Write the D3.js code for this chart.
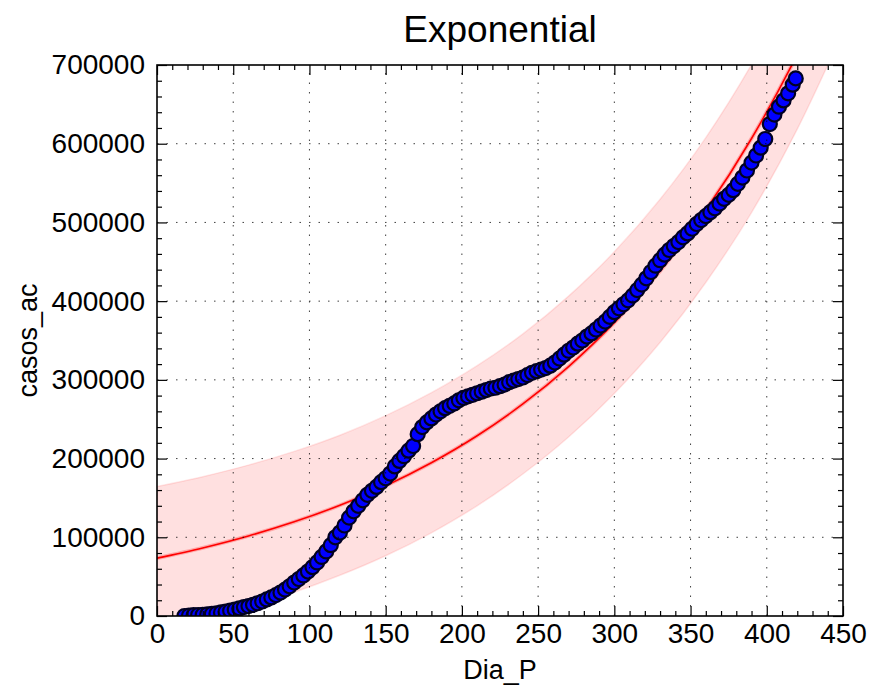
<!DOCTYPE html>
<html>
<head>
<meta charset="utf-8">
<script src="https://cdnjs.cloudflare.com/ajax/libs/d3/7.8.5/d3.min.js"></script>
<style>
	body { margin: 0; background: #fff; }
	svg { display: block; font-family: "Liberation Sans", Arial, sans-serif; }
</style>
</head>
<body>
<div id="chart"></div>
<script>
	'use strict';

	// accumulated cases (casos_ac) per day (Dia_P)
	var dias = [18, 21, 24, 27, 30, 33, 36, 39, 42, 45, 48, 51, 54, 57, 60, 63, 66, 69, 72, 75,
		78, 81, 84, 87, 90, 93, 96, 99, 102, 105, 108, 111, 114, 117, 120, 123, 126, 129, 132, 135,
		138, 141, 144, 147, 150, 153, 156, 159, 162, 165, 168, 171, 174, 177, 180, 183, 186, 189, 192, 195,
		198, 201, 204, 207, 210, 213, 216, 219, 222, 225, 228, 231, 234, 237, 240, 243, 246, 249, 252, 255,
		258, 261, 264, 267, 270, 273, 276, 279, 282, 285, 288, 291, 294, 297, 300, 303, 306, 309, 312, 315,
		318, 321, 324, 327, 330, 333, 336, 339, 342, 345, 348, 351, 354, 357, 360, 363, 366, 369, 372, 375,
		378, 381, 384, 387, 390, 393, 396, 399, 402, 405, 408, 411, 414, 417, 419];
	var casos = [0, 600, 1000, 1300, 1600, 2100, 2700, 3300, 4500, 5600, 6800, 8000, 9600, 11300, 12600, 14200, 16200, 18400, 21000, 23600,
		26500, 29800, 33500, 37800, 42500, 47000, 51500, 56500, 62000, 68000, 75000, 82000, 90000, 100000, 106000, 115000, 125000, 133000, 140000, 147000,
		154000, 159000, 164000, 170000, 175000, 181000, 190000, 197000, 203000, 210000, 216000, 231000, 240000, 246000, 251000, 256000, 260000, 264000, 267000, 270000,
		274000, 277000, 279000, 281000, 283000, 285000, 287000, 289000, 290000, 292000, 294000, 297000, 299000, 301000, 303000, 306000, 309000, 311000, 313000, 315000,
		318000, 322000, 327000, 332000, 337000, 341000, 346000, 350000, 355000, 359000, 364000, 369000, 374000, 380000, 386000, 391000, 396000, 401000, 407000, 414000,
		421000, 429000, 437000, 445000, 452000, 459000, 465000, 470000, 475000, 481000, 486000, 492000, 498000, 503000, 508000, 513000, 518000, 524000, 530000, 535000,
		541000, 549000, 557000, 566000, 576000, 585000, 595000, 606000, 625000, 637000, 647000, 655000, 664000, 675000, 683000];

	// exponential fit and its band, read at every 30 days
	var fitDias = [0, 30, 60, 90, 120, 150, 180, 210, 240, 270, 300, 330, 360, 390, 420, 450];
	var fitCasos = [73500, 86500, 101700, 119600, 140700, 165500, 194700, 229000, 269400, 316900, 372700, 438400, 515700, 606600, 713500, 839200];
	var bandUpper = [164500, 177000, 191700, 209100, 229700, 254500, 283700, 318000, 358400, 406400, 462700, 529400, 607700, 700600, 808500, 936200];
	var bandLower = [-17500, -4000, 11700, 30100, 51700, 76500, 105700, 140000, 180400, 227400, 282700, 347400, 423700, 512600, 618500, 742200];

	var xTicks = [0, 50, 100, 150, 200, 250, 300, 350, 400, 450];
	var yTicks = [0, 100000, 200000, 300000, 400000, 500000, 600000, 700000];

	var width = 873;
	var height = 693;
	var margin = { top: 65, right: 30, bottom: 77, left: 157 };

	var x = d3.scaleLinear()
		.domain([0, 450])
		.range([margin.left, width - margin.right]);
	var y = d3.scaleLinear()
		.domain([0, 700000])
		.range([height - margin.bottom, margin.top]);

	var xMinor = d3.range(0, 451, 10).filter(function (d) { return d % 50 !== 0; });
	var yMinor = d3.range(0, 700001, 20000).filter(function (d) { return d % 100000 !== 0; });

	var svg = d3.select('#chart').append('svg')
		.attr('width', width)
		.attr('height', height);

	svg.append('clipPath')
		.attr('id', 'plot-clip')
		.append('rect')
		.attr('x', margin.left)
		.attr('y', margin.top)
		.attr('width', width - margin.left - margin.right)
		.attr('height', height - margin.top - margin.bottom);

	var plot = svg.append('g').attr('clip-path', 'url(#plot-clip)');

	var fitData = fitDias.map(function (d, i) {
		return { dia: d, fit: fitCasos[i], hi: bandUpper[i], lo: bandLower[i] };
	});

	// pink band
	var area = d3.area()
		.curve(d3.curveMonotoneX)
		.x(function (d) { return x(d.dia); })
		.y0(function (d) { return y(d.lo); })
		.y1(function (d) { return y(d.hi); });
	plot.append('path')
		.datum(fitData)
		.attr('d', area)
		.attr('fill', 'rgba(255,0,0,0.12)')
		.attr('stroke', 'rgba(255,0,0,0.1)')
		.attr('stroke-width', 1.5);

	// red fitted curve
	var line = d3.line()
		.curve(d3.curveMonotoneX)
		.x(function (d) { return x(d.dia); })
		.y(function (d) { return y(d.fit); });
	plot.append('path')
		.datum(fitData)
		.attr('d', line)
		.attr('fill', 'none')
		.attr('stroke', 'rgba(255,0,0,0.25)')
		.attr('stroke-width', 4);
	plot.append('path')
		.datum(fitData)
		.attr('d', line)
		.attr('fill', 'none')
		.attr('stroke', '#ff0000')
		.attr('stroke-width', 1.6);

	// scatter of the observations
	plot.selectAll('circle')
		.data(dias.map(function (d, i) { return [d, casos[i]]; }))
		.enter().append('circle')
		.attr('cx', function (d) { return x(d[0]); })
		.attr('cy', function (d) { return y(d[1]); })
		.attr('r', 7)
		.attr('fill', '#0000ff')
		.attr('stroke', '#000022')
		.attr('stroke-width', 2.2);

	// dotted grid on top, like the classic style
	var grid = svg.append('g')
		.attr('stroke', '#000')
		.attr('stroke-width', 1)
		.attr('stroke-dasharray', '1.5,8')
		.attr('opacity', 0.75);
	grid.selectAll('.gx').data(xTicks.slice(1, -1))
		.enter().append('line')
		.attr('x1', x).attr('x2', x)
		.attr('y1', y(0)).attr('y2', y(700000));
	grid.selectAll('.gy').data(yTicks.slice(1, -1))
		.enter().append('line')
		.attr('y1', y).attr('y2', y)
		.attr('x1', x(0)).attr('x2', x(450));

	// axes, ticks pointing inward on all four sides
	function styleAxis(g) {
		g.select('.domain').remove();
		g.selectAll('.tick line').attr('stroke', '#000').attr('stroke-width', 1.2);
		g.selectAll('text')
			.attr('fill', '#000')
			.style('font-size', '28px')
			.style('font-family', '"Liberation Sans", Arial, sans-serif');
	}

	svg.append('g')
		.attr('transform', 'translate(0,' + y(0) + ')')
		.call(d3.axisBottom(x).tickValues(xTicks).tickSize(-10).tickPadding(7).tickFormat(d3.format('d')))
		.call(styleAxis);
	svg.append('g')
		.attr('transform', 'translate(0,' + y(0) + ')')
		.call(d3.axisBottom(x).tickValues(xMinor).tickSize(-5).tickFormat(''))
		.call(styleAxis);
	svg.append('g')
		.attr('transform', 'translate(0,' + y(700000) + ')')
		.call(d3.axisTop(x).tickValues(xTicks).tickSize(-10).tickFormat(''))
		.call(styleAxis);
	svg.append('g')
		.attr('transform', 'translate(0,' + y(700000) + ')')
		.call(d3.axisTop(x).tickValues(xMinor).tickSize(-5).tickFormat(''))
		.call(styleAxis);

	svg.append('g')
		.attr('transform', 'translate(' + x(0) + ',0)')
		.call(d3.axisLeft(y).tickValues(yTicks).tickSize(-10).tickPadding(12).tickFormat(d3.format('d')))
		.call(styleAxis);
	svg.append('g')
		.attr('transform', 'translate(' + x(0) + ',0)')
		.call(d3.axisLeft(y).tickValues(yMinor).tickSize(-5).tickFormat(''))
		.call(styleAxis);
	svg.append('g')
		.attr('transform', 'translate(' + x(450) + ',0)')
		.call(d3.axisRight(y).tickValues(yTicks).tickSize(-10).tickFormat(''))
		.call(styleAxis);
	svg.append('g')
		.attr('transform', 'translate(' + x(450) + ',0)')
		.call(d3.axisRight(y).tickValues(yMinor).tickSize(-5).tickFormat(''))
		.call(styleAxis);

	// frame
	svg.append('rect')
		.attr('x', x(0))
		.attr('y', y(700000))
		.attr('width', x(450) - x(0))
		.attr('height', y(0) - y(700000))
		.attr('fill', 'none')
		.attr('stroke', '#000')
		.attr('stroke-width', 1.6);

	// title and labels
	svg.append('text')
		.attr('x', (x(0) + x(450)) / 2)
		.attr('y', 42)
		.attr('text-anchor', 'middle')
		.style('font-size', '37px')
		.text('Exponential');

	svg.append('text')
		.attr('x', (x(0) + x(450)) / 2)
		.attr('y', 679)
		.attr('text-anchor', 'middle')
		.style('font-size', '27px')
		.text('Dia_P');

	svg.append('text')
		.attr('transform', 'translate(37,' + (y(0) + y(700000)) / 2 + ') rotate(-90)')
		.attr('text-anchor', 'middle')
		.style('font-size', '27px')
		.text('casos_ac');
</script>
</body>
</html>
